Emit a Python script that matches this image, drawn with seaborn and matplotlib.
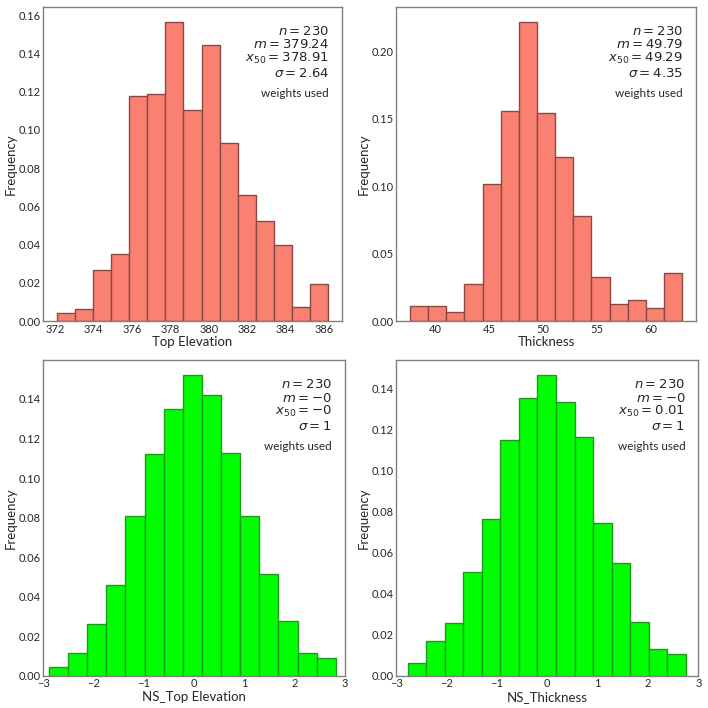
import numpy as np
import pandas as pd
import seaborn as sns
from matplotlib import pyplot as plt

"""DATA"""

# relative frequency per bin (15 bins each)
top_elev = [0.0042, 0.0063, 0.0269, 0.0351, 0.1179, 0.1188, 0.1567, 0.1107,
            0.1446, 0.0933, 0.0660, 0.0526, 0.0398, 0.0075, 0.0194]
top_elev_range = (372.08, 386.22)

thickness = [0.0111, 0.0111, 0.0067, 0.0275, 0.1017, 0.1559, 0.2220, 0.1542,
             0.1218, 0.0780, 0.0327, 0.0126, 0.0153, 0.0097, 0.0354]
thickness_range = (37.68, 62.94)

ns_top_elev = [0.0044, 0.0115, 0.0263, 0.0460, 0.0810, 0.1122, 0.1349, 0.1521,
               0.1422, 0.1127, 0.0810, 0.0514, 0.0277, 0.0115, 0.0089]
ns_top_elev_range = (-2.887, 2.816)

ns_thickness = [0.0060, 0.0171, 0.0257, 0.0505, 0.0763, 0.1148, 0.1355, 0.1465,
                0.1333, 0.1163, 0.0742, 0.0549, 0.0261, 0.0128, 0.0104]
ns_thickness_range = (-2.775, 2.749)

labels = ["Top Elevation", "Thickness", "NS_Top Elevation", "NS_Thickness"]
stats = ["$n = 230$\n$m = 379.24$\n$x_{50} = 378.91$\n$\\sigma = 2.64$",
         "$n = 230$\n$m = 49.79$\n$x_{50} = 49.29$\n$\\sigma = 4.35$",
         "$n = 230$\n$m = -0$\n$x_{50} = -0$\n$\\sigma = 1$",
         "$n = 230$\n$m = -0$\n$x_{50} = 0.01$\n$\\sigma = 1$"]

"""PLOT"""

sns.set_style("white")
plt.rcParams['font.family'] = ['Lato', 'DejaVu Sans']
plt.rcParams['mathtext.fontset'] = 'dejavusans'

fig, axes = plt.subplots(2, 2, figsize=(7.08, 7.08), dpi=100)
positions = [[0.0612, 0.5466, 0.4215, 0.4439],
             [0.5598, 0.5466, 0.4229, 0.4439],
             [0.0612, 0.0456, 0.4261, 0.4459],
             [0.5598, 0.0456, 0.4266, 0.4459]]

datasets = [(top_elev, top_elev_range, "#fa8072", "#8a4a44"),
            (thickness, thickness_range, "#fa8072", "#8a4a44"),
            (ns_top_elev, ns_top_elev_range, "#00ff00", "#1f9a1f"),
            (ns_thickness, ns_thickness_range, "#00ff00", "#1f9a1f")]

for i, ax in enumerate(axes.flat):
    freq, rng, face, edge = datasets[i]
    edges = np.linspace(rng[0], rng[1], len(freq) + 1)
    df = pd.DataFrame({"value": (edges[:-1] + edges[1:]) / 2, "freq": freq})
    sns.histplot(data=df, x="value", weights="freq", bins=list(edges), ax=ax,
                 color=face, edgecolor=edge, linewidth=1, alpha=1)
    ax.set_position(positions[i])
    if i >= 2:
        ax.set_xlim(-3, 3)
    ax.set_xlabel(labels[i], fontsize=9.5, labelpad=1)
    ax.set_ylabel("Frequency", fontsize=9.5, labelpad=1)
    ax.tick_params(length=0, labelsize=8, pad=2)
    for s in ax.spines.values():
        s.set_color("#808080")
        s.set_linewidth(1)
    ax.text(0.957, 0.945, stats[i], transform=ax.transAxes, ha="right", va="top",
            fontsize=9.5, linespacing=1.02)
    ax.text(0.957, 0.725, "weights used", transform=ax.transAxes, ha="right",
            va="center", fontsize=8.5)

plt.savefig("out.png", dpi=100)
